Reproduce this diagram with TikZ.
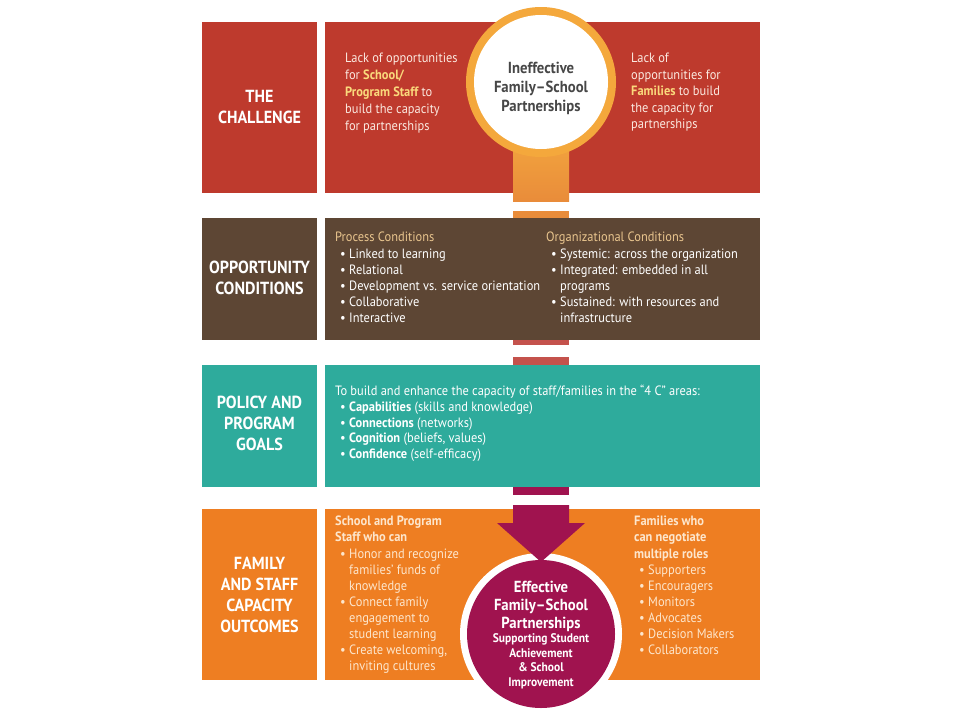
\documentclass[tikz,border=0pt]{standalone}
\usepackage{fontspec}
\setmainfont{PT Sans}[FakeStretch=0.92]
\usepackage{tikz}
\usetikzlibrary{positioning}

\definecolor{chalred}{HTML}{BE3A2D}
\definecolor{oppbrown}{HTML}{5D4634}
\definecolor{goalteal}{HTML}{2EAB9C}
\definecolor{outorange}{HTML}{EE7E22}
\definecolor{ringgold}{HTML}{F4A83C}
\definecolor{stemtop}{HTML}{F2A43E}
\definecolor{stembot}{HTML}{E98C3A}
\definecolor{stubred}{HTML}{C4524C}
\definecolor{capmag}{HTML}{A0134F}
\definecolor{hiyellow}{HTML}{FAD97C}
\definecolor{condtan}{HTML}{E9C58E}
\definecolor{paletext}{HTML}{FBE9E0}
\definecolor{cream}{HTML}{FDE6CC}
\definecolor{circgray}{HTML}{474747}

\newcommand{\bul}{\hspace*{5pt}\makebox[9pt][l]{•}}
\newcommand{\bulgap}{\hspace*{14pt}}
\newcommand{\hl}[1]{{\bfseries\color{hiyellow}#1}}

\tikzset{
  sectitle/.style={font=\bfseries\fontsize{17.5}{21}\selectfont, text=white, align=center},
  body/.style={font=\fontsize{13.5}{16.2}\selectfont, align=left, anchor=north west, inner sep=0pt}
}

\begin{document}
\begin{tikzpicture}[x=1pt,y=-1pt]
    \useasboundingbox (0,0) rectangle (960,720);
    \fill[white] (0,0) rectangle (960,720);

    % boxes
    \fill[chalred] (202,22) rectangle (317,193);
    \fill[chalred] (325,22) rectangle (760,193);
    \fill[oppbrown] (202,218) rectangle (317,340);
    \fill[oppbrown] (325,218) rectangle (760,340);
    \fill[goalteal] (202,365) rectangle (317,487);
    \fill[goalteal] (325,365) rectangle (760,487);
    \fill[outorange] (202,509) rectangle (317,680);
    \fill[outorange] (325,509) rectangle (760,680);

    % stubs between boxes
    \shade[top color=stemtop, bottom color=stembot] (513,140) rectangle (569,201);
    \fill[stembot] (513,211) rectangle (569,218);
    \fill[stubred] (513,340) rectangle (569,345);
    \fill[stubred] (513,357) rectangle (569,365);
    \fill[capmag] (513,487) rectangle (569,495);

    % top circle
    \fill[ringgold] (541,82) circle (75);
    \fill[white] (541,82) circle (67);
    \node[font=\bfseries\fontsize{16}{19}\selectfont, text=circgray, align=center] (inefT) at (541,88) {Ineffective\\Family–School\\Partnerships};

    % bottom circle and arrow
    \fill[white] (541,634) circle (81);
    \fill[capmag] (541,634) circle (74);
    \fill[capmag] (513,505) -- (569,505) -- (569,523) -- (585,523) -- (541,562) -- (497,523) -- (513,523) -- cycle;
    \node[font=\bfseries\fontsize{16}{18}\selectfont, text=white, align=center, inner sep=0pt] (capT) at (541,606) {Effective\\Family–School\\Partnerships};
    \node[font=\bfseries\fontsize{12.5}{14.5}\selectfont, text=white, align=center, inner sep=0pt, below=2pt of capT] (capS) {Supporting Student\\Achievement\\\& School\\Improvement};

    % section titles
    \node[sectitle] (chalL) at (259.5,107) {THE\\CHALLENGE};
    \node[sectitle] (oppL) at (259.5,278) {OPPORTUNITY\\CONDITIONS};
    \node[sectitle] (goalL) at (259.5,423) {POLICY AND\\PROGRAM\\GOALS};
    \node[sectitle] (outL) at (259.5,595) {FAMILY\\AND STAFF\\CAPACITY\\OUTCOMES};

    % challenge texts
    \node[body, text=paletext, font=\fontsize{13.5}{17}\selectfont] (chalS) at (345,53) {Lack of opportunities\\for \hl{School/}\\\hl{Program Staff} to\\build the capacity\\for partnerships};
    \node[body, text=paletext, font=\fontsize{13.5}{16.5}\selectfont] (chalF) at (631,53) {Lack of\\opportunities for\\\hl{Families} to build\\the capacity for\\partnerships};

    % opportunity texts
    \node[body, text=white] (oppP) at (335,232) {{\color{condtan}Process Conditions}\\\bul Linked to learning\\\bul Relational\\\bul Development vs. service orientation\\\bul Collaborative\\\bul Interactive};
    \node[body, text=white] (oppO) at (546,232) {{\color{condtan}Organizational Conditions}\\\bul Systemic: across the organization\\\bul Integrated: embedded in all\\\bulgap programs\\\bul Sustained: with resources and\\\bulgap infrastructure};

    % goals text
    \node[body, text=white, font=\fontsize{13.5}{15.7}\selectfont] (goalT) at (335,385) {To build and enhance the capacity of staff/families in the “4 C” areas:\\\bul \textbf{Capabilities} (skills and knowledge)\\\bul \textbf{Connections} (networks)\\\bul \textbf{Cognition} (beliefs, values)\\\bul \textbf{Confidence} (self-efficacy)};

    % outcome texts
    \node[body, text=cream, font=\fontsize{13.5}{16.1}\selectfont] (outS) at (335,516) {\textbf{School and Program}\\\textbf{Staff who can}\\\bul Honor and recognize\\\bulgap families’ funds of\\\bulgap knowledge\\\bul Connect family\\\bulgap engagement to\\\bulgap student learning\\\bul Create welcoming,\\\bulgap inviting cultures};
    \node[body, text=cream, font=\fontsize{13.5}{16.1}\selectfont] (outF) at (634,516) {\textbf{Families who}\\\textbf{can negotiate}\\\textbf{multiple roles}\\\bul Supporters\\\bul Encouragers\\\bul Monitors\\\bul Advocates\\\bul Decision Makers\\\bul Collaborators};
\end{tikzpicture}
\end{document}
